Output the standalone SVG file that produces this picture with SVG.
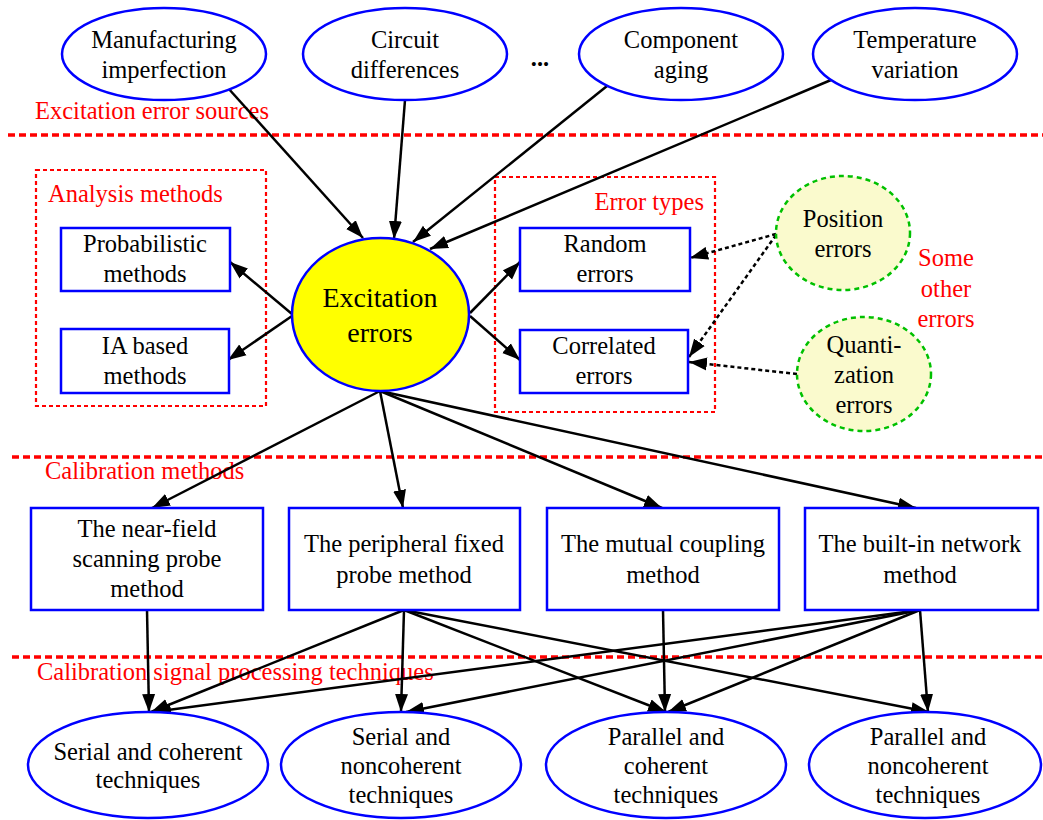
<svg xmlns="http://www.w3.org/2000/svg" width="1043" height="820" viewBox="0 0 1043 820">
<style>
text{font-family:'Liberation Serif','Times New Roman',serif;font-size:24.5px;fill:#000;text-anchor:middle}
.lbl{fill:#ff0000;text-anchor:start}
.nb{fill:#fff;stroke:#0000ff;stroke-width:2.5}
.oth{fill:#fafacd;stroke:#00c000;stroke-width:2.5;stroke-dasharray:5 4}
.sep{stroke:#ff0000;stroke-width:3.5;stroke-dasharray:7 4;fill:none}
.cl{stroke:#ff0000;stroke-width:2.2;stroke-dasharray:4 3;fill:none}
.e{stroke:#000;stroke-width:2.5;fill:none;marker-end:url(#ah)}
.d{stroke:#000;stroke-width:2.5;fill:none;stroke-dasharray:4 3;marker-end:url(#ah)}
</style>
<defs>
<marker id="ah" markerUnits="userSpaceOnUse" markerWidth="20" markerHeight="14" refX="18" refY="7" orient="auto">
<path d="M0,0.5 L18,7 L0,13.5 z" fill="#000"/>
</marker>
</defs>
<rect width="1043" height="820" fill="#fff"/>
<g id="separators">
<line class="sep" x1="8" y1="135" x2="1043" y2="135"/>
<line class="sep" x1="12" y1="457" x2="1043" y2="457"/>
<line class="sep" x1="12" y1="657" x2="1043" y2="657"/>
<text class="lbl" x="35" y="119">Excitation error sources</text>
<text class="lbl" x="45" y="479">Calibration methods</text>
<text class="lbl" x="37" y="680">Calibration signal processing techniques</text>
</g>
<g id="cluster-analysis">
<rect class="cl" x="36" y="170" width="230" height="236"/>
<text class="lbl" x="48" y="202">Analysis methods</text>
</g>
<g id="cluster-errortypes">
<rect class="cl" x="495" y="177" width="220" height="235"/>
<text class="lbl" x="704" y="210" style="text-anchor:end">Error types</text>
</g>
<g id="cluster-other">
<text class="lbl" x="946" y="266" style="text-anchor:middle">Some</text>
<text class="lbl" x="946" y="297" style="text-anchor:middle">other</text>
<text class="lbl" x="946" y="327" style="text-anchor:middle">errors</text>
</g>
<g id="connectors">
<line class="e" x1="228" y1="88" x2="363" y2="238"/>
<line class="e" x1="405" y1="100" x2="394" y2="239"/>
<line class="e" x1="607" y1="86" x2="413" y2="242"/>
<line class="e" x1="831" y1="80" x2="430" y2="249"/>
<line class="e" x1="292" y1="314" x2="230" y2="262"/>
<line class="e" x1="292" y1="316" x2="228" y2="360"/>
<line class="e" x1="470" y1="313" x2="520" y2="262"/>
<line class="e" x1="470" y1="316" x2="520" y2="360"/>
<line class="d" x1="776" y1="234" x2="690" y2="258"/>
<line class="d" x1="776" y1="235" x2="689" y2="357"/>
<line class="d" x1="797" y1="374" x2="689" y2="362"/>
<line class="e" x1="380" y1="391" x2="152" y2="508"/>
<line class="e" x1="380" y1="391" x2="403" y2="508"/>
<line class="e" x1="380" y1="391" x2="662" y2="508"/>
<line class="e" x1="380" y1="391" x2="916" y2="508"/>
<line class="e" x1="147" y1="610" x2="149" y2="712"/>
<line class="e" x1="404" y1="610" x2="151" y2="712"/>
<line class="e" x1="404" y1="610" x2="401" y2="712"/>
<line class="e" x1="404" y1="610" x2="666" y2="712"/>
<line class="e" x1="404" y1="610" x2="929" y2="712"/>
<line class="e" x1="663" y1="610" x2="665" y2="712"/>
<line class="e" x1="920" y1="610" x2="153" y2="712"/>
<line class="e" x1="920" y1="610" x2="406" y2="712"/>
<line class="e" x1="920" y1="610" x2="668" y2="712"/>
<line class="e" x1="920" y1="610" x2="928" y2="712"/>
</g>
<g id="n-manufacturing">
<ellipse class="nb" cx="164" cy="54" rx="102" ry="46"/>
<text x="164" y="48">Manufacturing</text>
<text x="164" y="78">imperfection</text>
</g>
<g id="n-circuit">
<ellipse class="nb" cx="405" cy="54" rx="102" ry="46"/>
<text x="405" y="48">Circuit</text>
<text x="405" y="78">differences</text>
</g>
<g id="n-dots">
<text x="540" y="66" style="font-weight:bold">...</text>
</g>
<g id="n-component">
<ellipse class="nb" cx="681" cy="54" rx="102" ry="46"/>
<text x="681" y="48">Component</text>
<text x="681" y="78">aging</text>
</g>
<g id="n-temperature">
<ellipse class="nb" cx="915" cy="54" rx="102" ry="46"/>
<text x="915" y="48">Temperature</text>
<text x="915" y="78">variation</text>
</g>
<g id="n-excitation">
<ellipse cx="380.5" cy="314.5" rx="88.5" ry="76.5" fill="#ffff00" stroke="#0000ff" stroke-width="2.5"/>
<text x="380" y="307" style="font-size:28px">Excitation</text>
<text x="380" y="342" style="font-size:28px">errors</text>
</g>
<g id="n-probabilistic">
<rect class="nb" x="61" y="228" width="169" height="63"/>
<text x="145" y="252">Probabilistic</text>
<text x="145" y="282">methods</text>
</g>
<g id="n-ia">
<rect class="nb" x="61" y="329" width="168" height="64"/>
<text x="145" y="354">IA based</text>
<text x="145" y="384">methods</text>
</g>
<g id="n-random">
<rect class="nb" x="520" y="228" width="170" height="63"/>
<text x="605" y="252">Random</text>
<text x="605" y="282">errors</text>
</g>
<g id="n-correlated">
<rect class="nb" x="520" y="330" width="168" height="63"/>
<text x="604" y="354">Correlated</text>
<text x="604" y="384">errors</text>
</g>
<g id="n-position">
<ellipse class="oth" cx="843" cy="233" rx="67" ry="57"/>
<text x="843" y="227">Position</text>
<text x="843" y="257">errors</text>
</g>
<g id="n-quantization">
<ellipse class="oth" cx="864" cy="374" rx="67" ry="57"/>
<text x="864" y="353">Quanti-</text>
<text x="864" y="383">zation</text>
<text x="864" y="413">errors</text>
</g>
<g id="n-nearfield">
<rect class="nb" x="31" y="508" width="232" height="102"/>
<text x="147" y="537">The near-field</text>
<text x="147" y="567">scanning probe</text>
<text x="147" y="597">method</text>
</g>
<g id="n-peripheral">
<rect class="nb" x="289" y="508" width="231" height="102"/>
<text x="404" y="552">The peripheral fixed</text>
<text x="404" y="583">probe method</text>
</g>
<g id="n-mutual">
<rect class="nb" x="547" y="508" width="232" height="102"/>
<text x="663" y="552">The mutual coupling</text>
<text x="663" y="583">method</text>
</g>
<g id="n-builtin">
<rect class="nb" x="805" y="508" width="233" height="102"/>
<text x="920" y="552">The built-in network</text>
<text x="920" y="583">method</text>
</g>
<g id="n-serialcoh">
<ellipse class="nb" cx="148" cy="765" rx="120" ry="53"/>
<text x="148" y="760">Serial and coherent</text>
<text x="148" y="788">techniques</text>
</g>
<g id="n-serialnon">
<ellipse class="nb" cx="401" cy="765" rx="120" ry="53"/>
<text x="401" y="745">Serial and</text>
<text x="401" y="774">noncoherent</text>
<text x="401" y="803">techniques</text>
</g>
<g id="n-parcoh">
<ellipse class="nb" cx="666" cy="765" rx="120" ry="53"/>
<text x="666" y="745">Parallel and</text>
<text x="666" y="774">coherent</text>
<text x="666" y="803">techniques</text>
</g>
<g id="n-parnon">
<ellipse class="nb" cx="925" cy="765" rx="116" ry="53"/>
<text x="928" y="745">Parallel and</text>
<text x="928" y="774">noncoherent</text>
<text x="928" y="803">techniques</text>
</g>
</svg>
